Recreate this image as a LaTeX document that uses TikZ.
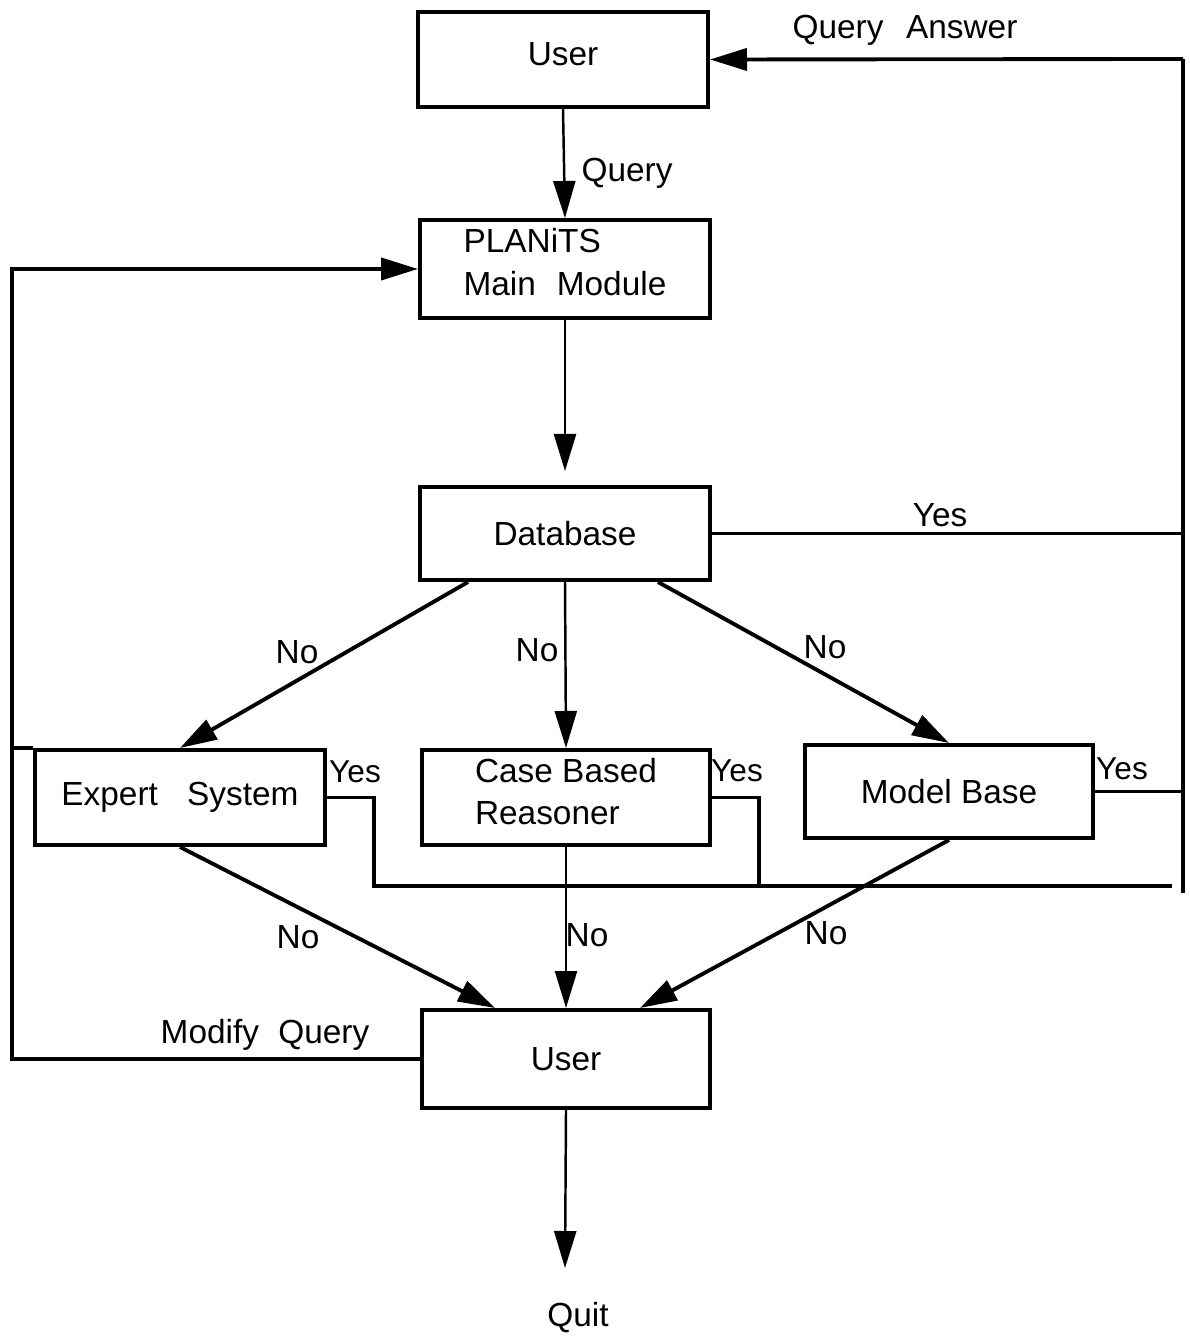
\documentclass[tikz,border=0pt]{standalone}
\usepackage{fontspec}
\setmainfont{Liberation Sans}
\usetikzlibrary{arrows.meta,calc}
\begin{document}
\begin{tikzpicture}[x=0.02cm,y=-0.02cm,
  box/.style={draw,line width=2.3pt,rectangle,inner sep=0pt,
    minimum width=5.8cm,minimum height=1.9cm,font=\fontsize{19}{24}\selectfont},
  wire/.style={line width=2.2pt},
  thinwire/.style={line width=1.4pt},
  tip/.style={-{Triangle[length=0.74cm,width=0.44cm]}},
  lbl/.style={font=\fontsize{19}{24}\selectfont,inner sep=0pt},
  sidelbl/.style={font=\fontsize{18}{20}\selectfont,inner sep=0pt}]
\useasboundingbox (0,0) rectangle (1189,1337);

% boxes
\node[box,text depth=0.2cm] (userTop) at (563,59.5) {User};
\node[box,minimum height=1.96cm,align=left,text depth=0.3cm,
  font=\fontsize{19}{24.5}\selectfont] (main) at (565,269) {PLANiTS\\Main\hspace{0.35em} Module};
\node[box,minimum height=1.86cm] (db) at (565,533.5) {Database};
\node[box] (es) at (180,797.5) {Expert\hspace{0.6em} System};
\node[box,minimum width=5.76cm,align=left,text depth=0.24cm,
  font=\fontsize{19}{23.5}\selectfont] (cbr) at (566,797.5) {Case Based\\Reasoner};
\node[box,minimum width=5.76cm,minimum height=1.86cm] (mb) at (949,791.5) {Model Base};
\node[box,minimum width=5.76cm,minimum height=1.96cm] (userBot) at (566,1059) {User};

% rails and junctions
\coordinate (rightTop) at (1183,59);
\coordinate (rightEnd) at (1183,893);
\coordinate (leftRail) at (12,269);
\coordinate (collectEnd) at (1172,886);
\coordinate (quitTip) at (565,1268);

% top flow
\draw[thinwire,tip] (userTop.south) -- (main.north);
\draw[thinwire,tip,shorten >=0.28cm] (main.south) -- (db.north);

% answers back to the user
\draw[wire] (rightTop) -- (rightEnd);
\draw[wire,tip] (rightTop) -- (userTop.east);
\draw[wire] (db.east) -- (db.east -| rightTop);
\draw[wire] (mb.east) -- (mb.east -| rightTop);
\draw[wire] (es.east) -- ++(47,0) coordinate (esTurn) -- (esTurn |- collectEnd) -- (collectEnd);
\draw[wire] (cbr.east) -- ++(47,0) coordinate (cbrTurn) -- (cbrTurn |- collectEnd);

% database to the three solvers
\draw[wire,tip] ($(db.south)+(-97,0)$) -- (es.north);
\draw[thinwire,tip] (db.south) -- (cbr.north);
\draw[wire,tip] ($(db.south)+(93,0)$) -- (mb.north);

% solvers to the user
\draw[wire,tip] (es.south) -- ($(userBot.north)+(-71,0)$);
\draw[thinwire,tip] (cbr.south) -- (userBot.north);
\draw[wire,tip] (mb.south) -- ($(userBot.north)+(74,0)$);

% modify query loop
\draw[wire,tip] (userBot.west) -| (leftRail) -- (main.west);
\draw[wire] (es.north west -| leftRail) -- (es.north west);

% quit
\draw[thinwire,tip] (userBot.south) -- (quitTip);
\node[lbl] (quit) at (578,1318) {Quit};

% labels
\node[lbl] (lQuery) at (627,173) {Query};
\node[lbl] (lAnswer) at (905,30) {Query\hspace{0.4em} Answer};
\node[lbl] (lYesDb) at (940,515) {Yes};
\node[lbl] (lNo1) at (297,652) {No};
\node[lbl] (lNo2) at (537,650) {No};
\node[lbl] (lNo3) at (825,647) {No};
\node[lbl] (lNo4) at (298,937) {No};
\node[lbl] (lNo5) at (587,935) {No};
\node[lbl] (lNo6) at (826,933) {No};
\node[sidelbl] (lYesEs) at (355,772) {Yes};
\node[sidelbl] (lYesCbr) at (737,771) {Yes};
\node[sidelbl] (lYesMb) at (1122,769) {Yes};
\node[lbl] (lModify) at (265,1035) {Modify\hspace{0.3em} Query};
\end{tikzpicture}
\end{document}
